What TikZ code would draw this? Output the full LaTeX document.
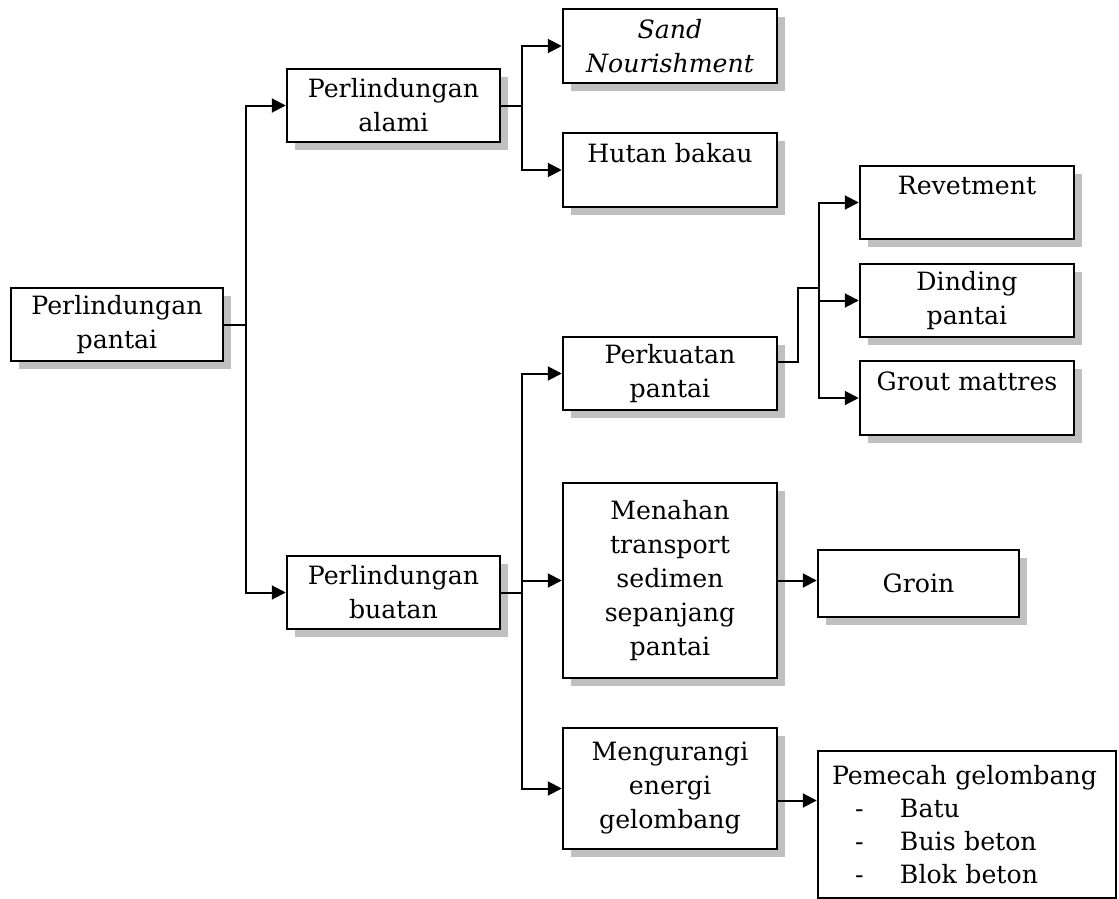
\documentclass[tikz,border=0pt]{standalone}
\usepackage{fontspec}
\setmainfont{DejaVu Serif}
\usetikzlibrary{arrows.meta,shadows}

\begin{document}
\begin{tikzpicture}[x=1pt,y=-1pt,line cap=rect,
	kotak/.style={draw, line width=2.5pt, fill=white, inner sep=3pt, align=center,
		minimum width=214pt, minimum height=73pt, font=\fontsize{25.2pt}{34pt}\selectfont,
		general shadow={fill=custcol_c0_c0_c0, draw=none, shadow xshift=8pt, shadow yshift=-8pt}},
	kotakpolos/.style={draw, line width=2.5pt, fill=white, inner sep=3pt, align=left,
		font=\fontsize{25.2pt}{33pt}\selectfont},
	garis/.style={line width=2pt},
	panah/.style={line width=2pt, -{Triangle[length=14pt,width=14pt]}}]
	\definecolor{custcol_c0_c0_c0}{RGB}{192, 192, 192}
	\useasboundingbox (0,0) rectangle (1119,899);
	% kotak
	\node[kotak, minimum width=212pt] (pantai) at (117,324.5) {Perlindungan\\pantai};
	\node[kotak, minimum width=213pt] (alami) at (393.5,105.5) {Perlindungan\\alami};
	\node[kotak, minimum width=213pt] (buatan) at (393.5,592.5) {Perlindungan\\buatan};
	\node[kotak, minimum height=74pt] (sand) at (670,46) {\itshape Sand\\\itshape Nourishment};
	\node[kotak, minimum height=74pt] (hutan) at (670,170) {Hutan bakau\\\mbox{}};
	\node[kotak] (perkuatan) at (670,373.5) {Perkuatan\\pantai};
	\node[kotak, minimum height=195pt] (menahan) at (670,580.5) {Menahan\\transport\\sedimen\\sepanjang\\pantai};
	\node[kotak, minimum height=121pt] (mengurangi) at (670,788.5) {Mengurangi\\energi\\gelombang};
	\node[kotak] (revetment) at (967,202.5) {Revetment\\\mbox{}};
	\node[kotak] (dinding) at (967,300.5) {Dinding\\pantai};
	\node[kotak, minimum height=74pt] (grout) at (967,398) {Grout mattres\\\mbox{}};
	\node[kotak, minimum width=201pt, minimum height=67pt] (groin) at (918.5,583.5) {Groin};
	\node[kotakpolos, text width=292pt, minimum height=147pt] (pemecah) at (967,824.5)
		{\hspace*{11pt}Pemecah gelombang\\
		\hspace*{34pt}\makebox[45pt][l]{-}Batu\\
		\hspace*{34pt}\makebox[45pt][l]{-}Buis beton\\
		\hspace*{34pt}\makebox[45pt][l]{-}Blok beton};
	% garis penghubung
	\draw[garis] (pantai.east) -- ++(22,0) coordinate (cabangA);
	\draw[panah] (cabangA) |- (alami.west);
	\draw[panah] (cabangA) |- (buatan.west);
	\draw[garis] (alami.east) -- ++(21,0) coordinate (cabangB);
	\draw[panah] (cabangB) |- (sand.west);
	\draw[panah] (cabangB) |- (hutan.west);
	\draw[garis] (buatan.east) -- ++(21,0) coordinate (cabangC);
	\draw[panah] (cabangC) |- (perkuatan.west);
	\draw[panah] (cabangC) |- (menahan.west);
	\draw[panah] (cabangC) |- (mengurangi.west);
	\coordinate (cabangF) at (819,288);
	\draw[garis] ([yshift=12pt]perkuatan.east) -- ++(20,0) |- (cabangF);
	\draw[panah] (cabangF) |- (revetment.west);
	\draw[panah] (cabangF) |- (dinding.west);
	\draw[panah] (cabangF) |- (grout.west);
	\draw[panah] (menahan.east) -- (menahan.east -| groin.west);
	\draw[panah] ([yshift=-12pt]mengurangi.east) -- ([yshift=-12pt]mengurangi.east -| pemecah.west);
\end{tikzpicture}
\end{document}
